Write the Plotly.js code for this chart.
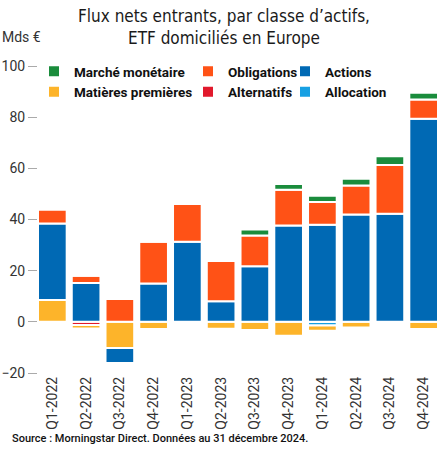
<!DOCTYPE html>
<html>
<head>
<meta charset="utf-8">
<script src="https://cdn.plot.ly/plotly-3.0.1.min.js"></script>
<style>
  html, body { margin: 0; padding: 0; background: #fff; }
  #chart { width: 438px; height: 453px; }
</style>
</head>
<body>
<div id="chart"></div>
<script>
// ---- Data (Mds €) ----
var quarters = ['Q1-2022','Q2-2022','Q3-2022','Q4-2022','Q1-2023','Q2-2023','Q3-2023','Q4-2023','Q1-2024','Q2-2024','Q3-2024','Q4-2024'];
var marcheMonetaire   = [0, 0, 0, 0, 0, 0, 2.4, 2.3, 2.5, 2.6, 3.4, 2.6];
var obligations       = [5.5, 2.8, 8.9, 16.3, 14.8, 15.8, 12.0, 13.9, 8.9, 11.3, 19.1, 7.5];
var actions           = [29.9, 15.2, -5.9, 15.0, 31.3, 8.0, 21.7, 37.7, 37.9, 42.0, 42.2, 79.4];
var matieresPremieres = [8.5, -1.4, -10.2, -2.8, 0, -2.7, -3.2, -5.4, -2.1, -2.2, 0, -2.85];
var alternatifs       = [0, -1.2, 0, 0, 0, 0, 0, 0, 0, 0, 0, 0];
var allocation        = [0, 0, 0, 0, 0, 0, 0, 0, -1.4, 0, 0, 0];
var yTicks = [-20, 0, 20, 40, 60, 80, 100];

var NARROW = "'DejaVu Sans Condensed', sans-serif";
var TICKF = "Roboto, 'Liberation Sans', sans-serif";

function bar(name, y, color, legend, rank) {
  return {
    type: 'bar', name: name, x: quarters, y: y,
    marker: { color: color, line: { color: '#ffffff', width: 2 } },
    legend: legend, legendrank: rank, hoverinfo: 'skip'
  };
}

var traces = [
  bar('Allocation', allocation, '#17a0e3', 'legend3', 2),
  bar('Alternatifs', alternatifs, '#e1192c', 'legend2', 2),
  bar('Matières premières', matieresPremieres, '#fdb42a', 'legend', 2),
  bar('Actions', actions, '#0069b4', 'legend3', 1),
  bar('Obligations', obligations, '#ff5216', 'legend2', 1),
  bar('Marché monétaire', marcheMonetaire, '#1a8c3c', 'legend', 1)
];

// plot area: x 38..438 px, y 66..373 px
function px2x(px) { return (px - 38) / 400; }
function py2y(py) { return (373 - py) / 307; }

function leg(xpx) {
  return {
    x: px2x(xpx), y: py2y(56), xanchor: 'left', yanchor: 'top',
    orientation: 'v', traceorder: 'normal', bgcolor: 'rgba(0,0,0,0)',
    font: { family: TICKF, size: 13.5, color: '#111', weight: 'bold' }
  };
}

var layout = {
  width: 438, height: 453,
  margin: { l: 38, r: 0, t: 66, b: 80 },
  paper_bgcolor: '#fff', plot_bgcolor: '#fff',
  barmode: 'relative', bargap: 0.15,
  title: {
    text: 'Flux nets entrants, par classe d’actifs,<br>ETF domiciliés en Europe',
    xref: 'container', yref: 'container', x: 224 / 438, xanchor: 'center',
    y: 1 - 22 / 453, yanchor: 'top',
    font: { family: NARROW, size: 17, color: '#1a1a1a' }
  },
  xaxis: {
    type: 'category', range: [-0.425, 11.425], autorange: false,
    tickangle: -90, showgrid: false, zeroline: false, showline: false,
    ticks: '', tickfont: { family: TICKF, size: 14, color: '#333' }
  },
  yaxis: {
    range: [-20, 100], autorange: false, tickvals: yTicks,
    showgrid: false, zeroline: false, showline: false,
    ticks: 'outside', ticklen: 9, tickcolor: '#aaaaaa', tickwidth: 1,
    tickfont: { family: TICKF, size: 14, color: '#333' }
  },
  showlegend: true,
  legend: leg(34),
  legend2: leg(188),
  legend3: leg(285),
  annotations: [
    { text: 'Mds €', xref: 'paper', yref: 'paper', x: px2x(0), y: py2y(37.5),
      xanchor: 'left', yanchor: 'middle', showarrow: false,
      font: { family: TICKF, size: 14, color: '#333' } },
    { text: 'Source : Morningstar Direct. Données au 31 décembre 2024.', xref: 'paper', yref: 'paper',
      x: px2x(10), y: py2y(438), xanchor: 'left', yanchor: 'middle', showarrow: false,
      font: { family: TICKF, size: 11, color: '#111', weight: 500 } }
  ]
};

Plotly.newPlot('chart', traces, layout, { staticPlot: true, displayModeBar: false });
</script>
</body>
</html>
